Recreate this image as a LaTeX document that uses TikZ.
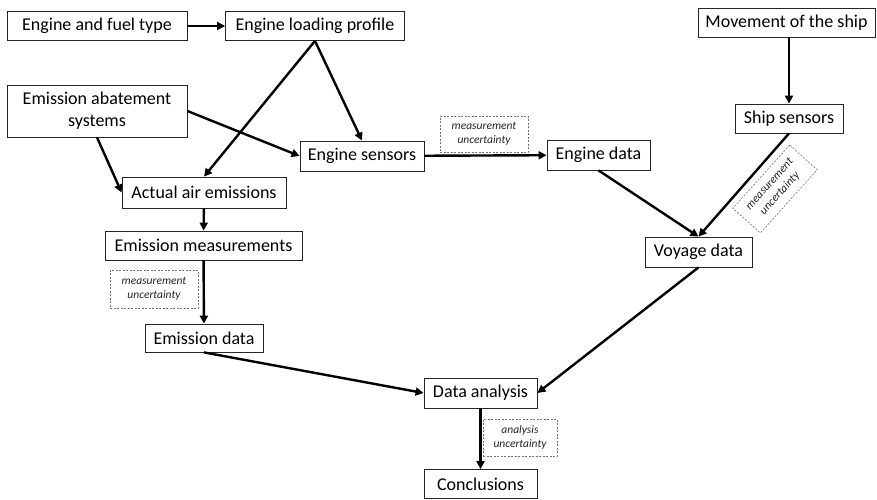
\documentclass[tikz,border=0pt]{standalone}
\usepackage{fontspec}
\setmainfont{Carlito}
\usetikzlibrary{arrows.meta}
\tikzset{
  box/.style={draw=black!85, line width=0.8pt, inner sep=0pt, align=center,
    font=\fontsize{18}{22}\selectfont, text=black},
  note/.style={draw=black!55, dashed, dash pattern=on 2pt off 1.5pt, line width=0.6pt,
    inner sep=0pt, align=center, font=\fontsize{11.5}{14}\selectfont\itshape, text=black!85},
  arr/.style={line width=2.4pt, -{Triangle[length=8pt,width=8pt]}}
}
\begin{document}
\begin{tikzpicture}[x=1pt,y=-1pt]
\useasboundingbox[fill=white] (0,0) rectangle (877,499);
% boxes
\node[box, minimum width=180pt, minimum height=29pt] (eft) at (97,26) {Engine and fuel type};
\node[box, minimum width=179pt, minimum height=29pt] (elp) at (315,26) {Engine loading profile};
\node[box, minimum width=180pt, minimum height=52pt] (eas) at (97,111) {Emission abatement\\systems};
\node[box, minimum width=124pt, minimum height=30pt] (es) at (362,156) {Engine sensors};
\node[box, minimum width=164pt, minimum height=31pt] (aae) at (204,192.5) {Actual air emissions};
\node[box, minimum width=197pt, minimum height=29pt] (em) at (203.5,245.5) {Emission measurements};
\node[box, minimum width=118pt, minimum height=28pt] (emd) at (204,338) {Emission data};
\node[box, minimum width=103pt, minimum height=30pt] (ed) at (598.5,155) {Engine data};
\node[box, minimum width=177pt, minimum height=29pt] (ms) at (786.5,22.5) {Movement of the ship};
\node[box, minimum width=108pt, minimum height=29pt] (ss) at (789,118.5) {Ship sensors};
\node[box, minimum width=107pt, minimum height=30pt] (vd) at (698.5,252) {Voyage data};
\node[box, minimum width=113pt, minimum height=30pt] (da) at (480.5,393) {Data analysis};
\node[box, minimum width=113pt, minimum height=29pt] (co) at (480.5,484) {Conclusions};
% uncertainty notes
\node[note, minimum width=88pt, minimum height=36pt] (mu1) at (484,134) {measurement\\uncertainty};
\node[note, minimum width=88pt, minimum height=38pt] (mu2) at (154,289) {measurement\\uncertainty};
\node[note, minimum width=74pt, minimum height=37pt] (au) at (520,437.5) {analysis\\uncertainty};
\node[note, minimum width=85pt, minimum height=37pt, rotate=48] (mu3) at (775,189) {measurement\\uncertainty};
% connectors
\draw[arr] (eft) -- (elp);
\draw[arr] (elp.south) -- (es.north);
\draw[arr] (elp.south) -- (aae.north);
\draw[arr] (eas.east) -- (es.west);
\draw[arr] (eas.south) -- (aae.west);
\draw[arr] (aae) -- (em);
\draw[arr] (em) -- (emd);
\draw[arr] (es) -- (ed);
\draw[arr] (ms.south -| ss.north) -- (ss.north);
\draw[arr] (ed.south) -- (vd.north);
\draw[arr] (ss.south) -- (vd.north);
\draw[arr] (emd.south) -- (da.west);
\draw[arr] (vd.south) -- (da.east);
\draw[arr] (da) -- (co);
\end{tikzpicture}
\end{document}
